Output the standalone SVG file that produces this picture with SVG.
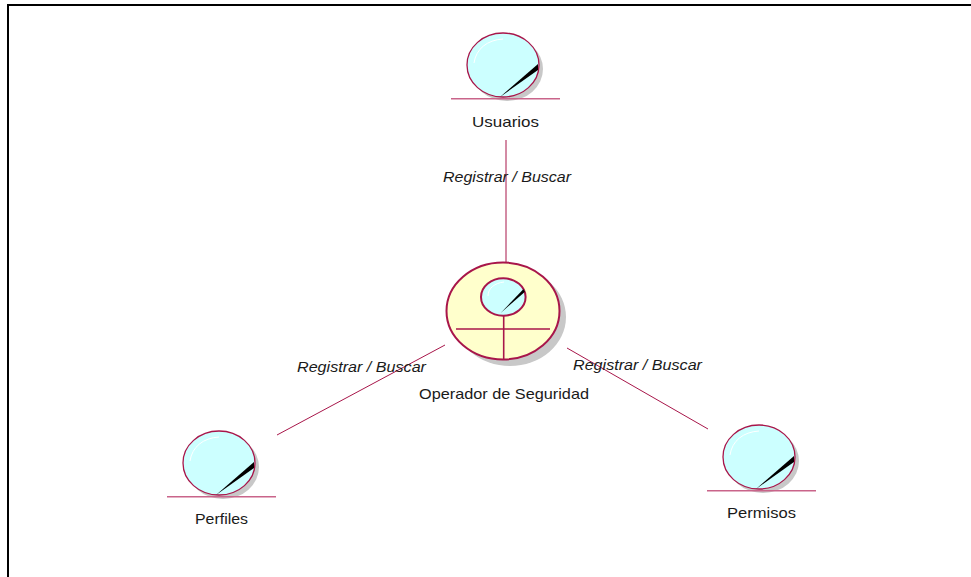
<svg xmlns="http://www.w3.org/2000/svg" width="971" height="577" viewBox="0 0 971 577">
<style>
text{font-family:"Liberation Sans",Arial,sans-serif;font-size:14.5px;fill:#1a1a1a}
.lbl{font-style:italic}
.c{stroke:#a8164a;stroke-width:1;fill:none}
.shadow{fill:#c8c8c8;filter:url(#soft)}
.ent{fill:#ccffff;stroke:#a8164a;stroke-width:1.3}
.ctl{fill:#ffffcc;stroke:#a8164a;stroke-width:2}
.base{stroke:#c9648a;stroke-width:1.5}
.bar{stroke:#a8164a;stroke-width:1.6}
.hl{fill:none;stroke:#fff;stroke-width:1}
</style>
<defs>
<filter id="soft" x="-10%" y="-10%" width="120%" height="120%"><feGaussianBlur stdDeviation="0.7"/></filter>
<g id="entity">
<ellipse class="shadow" cx="40" cy="36" rx="36" ry="32"/>
<ellipse class="ent" cx="36" cy="32" rx="36" ry="32"/>
<path class="hl" d="M7 30C9 16 20 7 36 6"/>
<path d="M33 64L71 31L71 37Z" fill="#000"/>
<line class="base" x1="-16" y1="65.800" x2="93" y2="65.800"/>
</g>
</defs>
<rect id="frame" x="8" y="5" width="980" height="590" fill="#fff" stroke="#000" stroke-width="2"/>
<g id="connectors">
<line class="c" x1="506" y1="140" x2="506" y2="262"/>
<line class="c" x1="445" y1="345" x2="277" y2="435"/>
<line class="c" x1="567" y1="348" x2="708" y2="429"/>
</g>
<g id="usuarios"><use href="#entity" x="467" y="33"/><text x="472" y="127" textLength="67" lengthAdjust="spacingAndGlyphs">Usuarios</text></g>
<g id="perfiles"><use href="#entity" x="183" y="431"/><text x="195" y="524" textLength="53" lengthAdjust="spacingAndGlyphs">Perfiles</text></g>
<g id="permisos"><use href="#entity" x="723" y="425"/><text x="727" y="518" textLength="69" lengthAdjust="spacingAndGlyphs">Permisos</text></g>
<g id="operador">
<ellipse class="shadow" cx="510" cy="317" rx="56" ry="49"/>
<ellipse class="ctl" cx="503" cy="311" rx="56.500" ry="48.500"/>
<ellipse cx="503.300" cy="297" rx="22.300" ry="18.700" fill="#ccffff" stroke="#a8164a" stroke-width="2"/>
<path class="hl" d="M488 296C488 288 495 283 504 282"/>
<path d="M500.700 313L523.300 289.300L525 291.700Z" fill="#000"/>
<line class="bar" x1="503.700" y1="316" x2="503.700" y2="359"/>
<line class="bar" x1="456" y1="329" x2="550" y2="329"/>
<text x="419" y="399" textLength="170" lengthAdjust="spacingAndGlyphs">Operador de Seguridad</text>
</g>
<g id="labels">
<text class="lbl" x="443" y="182" textLength="128" lengthAdjust="spacingAndGlyphs">Registrar / Buscar</text>
<text class="lbl" x="297" y="372" textLength="129" lengthAdjust="spacingAndGlyphs">Registrar / Buscar</text>
<text class="lbl" x="573" y="370" textLength="129" lengthAdjust="spacingAndGlyphs">Registrar / Buscar</text>
</g>
</svg>
